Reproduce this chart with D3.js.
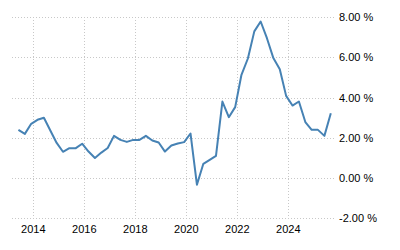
<!DOCTYPE html>
<html>
<head>
<meta charset="utf-8">
<script src="https://cdn.jsdelivr.net/npm/d3@7"></script>
<style>
  body { margin: 0; background: #fff; }
  svg { display: block; }
  .grid line { stroke: #c8c8c8; stroke-width: 1; stroke-dasharray: 1,2; shape-rendering: crispEdges; }
  .lbl { font-family: "Liberation Sans", Arial, sans-serif; font-size: 11px; fill: #000; }
</style>
</head>
<body>
<svg id="svg"></svg>
<script>
// quarterly readings (end of quarter month)
const quarters = [
  "2013-06", "2013-09", "2013-12",
  "2014-03", "2014-06", "2014-09", "2014-12",
  "2015-03", "2015-06", "2015-09", "2015-12",
  "2016-03", "2016-06", "2016-09", "2016-12",
  "2017-03", "2017-06", "2017-09", "2017-12",
  "2018-03", "2018-06", "2018-09", "2018-12",
  "2019-03", "2019-06", "2019-09", "2019-12",
  "2020-03", "2020-06", "2020-09", "2020-12",
  "2021-03", "2021-06", "2021-09", "2021-12",
  "2022-03", "2022-06", "2022-09", "2022-12",
  "2023-03", "2023-06", "2023-09", "2023-12",
  "2024-03", "2024-06", "2024-09", "2024-12",
  "2025-03", "2025-06", "2025-09"
];
const values = [
  2.4, 2.2, 2.7,
  2.9, 3.0, 2.37, 1.75,
  1.31, 1.49, 1.49, 1.71,
  1.32, 1.0, 1.27, 1.5,
  2.1, 1.9, 1.8, 1.9,
  1.9, 2.1, 1.87, 1.77,
  1.32, 1.62, 1.72, 1.79,
  2.22, -0.33, 0.71, 0.91,
  1.11, 3.81, 3.03, 3.53,
  5.14, 5.95, 7.3, 7.79,
  6.96, 5.97, 5.42, 4.09,
  3.61, 3.81, 2.79, 2.4,
  2.4, 2.1, 3.23
];
const yTicks = [-2, 0, 2, 4, 6, 8];
const xTickYears = [2014, 2016, 2018, 2020, 2022, 2024];

const width = 400, height = 250;
const plotLeft = 12, plotRight = 335, plotTop = 17.3, plotBottom = 218.3;

const svg = d3.select("svg")
    .attr("width", width)
    .attr("height", height);

const parse = d3.timeParse("%Y-%m");
const data = quarters.map((q, i) => ({ date: parse(q), value: values[i] }));

const x = d3.scaleTime()
    .domain([new Date(2013, 2, 1), new Date(2025, 9, 31)])
    .range([plotLeft, plotRight]);

const y = d3.scaleLinear()
    .domain([-2, 8])
    .range([plotBottom, plotTop]);

const grid = svg.append("g").classed("grid", true);

grid.selectAll("line.h")
    .data(yTicks)
    .join("line")
        .classed("h", true)
        .attr("x1", plotLeft)
        .attr("x2", plotRight)
        .attr("y1", d => Math.round(y(d)) + 0.5)
        .attr("y2", d => Math.round(y(d)) + 0.5);

grid.selectAll("line.v")
    .data(xTickYears)
    .join("line")
        .classed("v", true)
        .attr("x1", d => Math.round(x(new Date(d, 0, 1))) + 0.5)
        .attr("x2", d => Math.round(x(new Date(d, 0, 1))) + 0.5)
        .attr("y1", plotTop)
        .attr("y2", plotBottom + 3);

svg.append("g")
    .selectAll("text")
    .data(yTicks)
    .join("text")
        .classed("lbl", true)
        .attr("x", 339)
        .attr("y", d => y(d))
        .attr("dy", "0.35em")
        .text(d => d3.format(".2f")(d).replace("−", "-") + " %");

svg.append("g")
    .selectAll("text")
    .data(xTickYears)
    .join("text")
        .classed("lbl", true)
        .attr("x", d => x(new Date(d, 0, 1)))
        .attr("y", 233)
        .attr("text-anchor", "middle")
        .text(d => d);

svg.append("path")
    .datum(data)
    .attr("fill", "none")
    .attr("stroke", "#4682b4")
    .attr("stroke-width", 2)
    .attr("stroke-linejoin", "round")
    .attr("d", d3.line()
        .x(d => x(d.date))
        .y(d => y(d.value)));
</script>
</body>
</html>
